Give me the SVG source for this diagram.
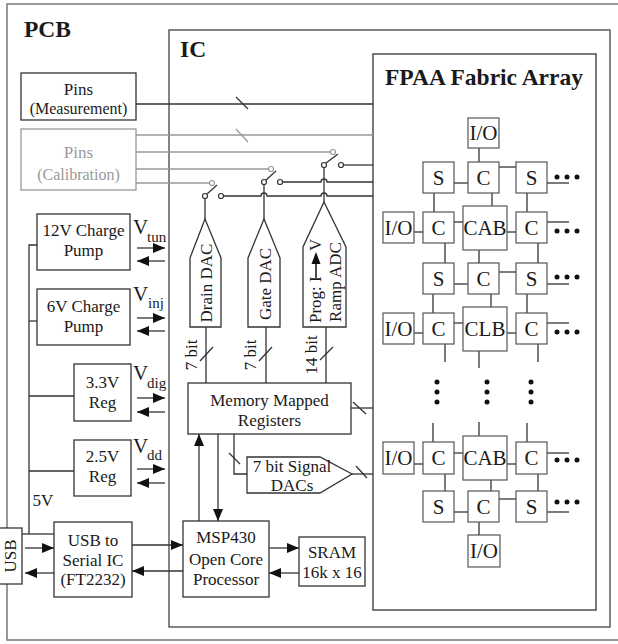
<svg xmlns="http://www.w3.org/2000/svg" width="618" height="644" viewBox="0 0 618 644">
<style>
text{font-family:"Liberation Serif","Times New Roman",serif;fill:#1a1a1a}
.t{font-size:17px;text-anchor:middle}
.m{font-size:16px;text-anchor:middle}
.b{font-weight:bold;font-size:23.5px}
.g{font-size:21px;text-anchor:middle}
.v{font-size:21px}
.s{font-size:15px}
.box{fill:#fff;stroke:#333;stroke-width:1.3}
.gbox{fill:#fff;stroke:#555;stroke-width:1.2}
.ln{fill:none;stroke:#333;stroke-width:1.3}
.gl{fill:none;stroke:#999;stroke-width:1.3}
.gt{fill:#999}
.ar{marker-end:url(#ah)}
.sw{fill:#fff;stroke:#333;stroke-width:1.2}
.swg{fill:#fff;stroke:#999;stroke-width:1.2}
.dot{fill:#111}
</style>
<defs>
<marker id="ah" markerUnits="userSpaceOnUse" markerWidth="12" markerHeight="10" refX="12" refY="5" orient="auto">
<path d="M0,0 L12,5 L0,10 z" fill="#111"/>
</marker>
</defs>

<g id="pcb">
<rect x="7" y="4" width="613" height="636" fill="none" stroke="#777" stroke-width="1.5"/>
<text class="b" x="24" y="37">PCB</text>
</g>
<g id="ic">
<rect x="169" y="30" width="441" height="597" fill="none" stroke="#444" stroke-width="1.3"/>
<text class="b" x="180" y="57">IC</text>
</g>
<g id="fpaa">
<rect x="373" y="54" width="223" height="556" fill="#fff" stroke="#333" stroke-width="1.3"/>
<text class="b" x="385" y="85">FPAA Fabric Array</text>
</g>

<g id="connectors">
<path class="ln" d="M136,104 H373"/>
<path class="ln" d="M236,97 L248,109"/>
<path class="gl" d="M136,135 H373"/>
<path class="gl" d="M236,129 L248,142"/>
<path class="gl" d="M136,152 H330.5"/>
<path class="gl" d="M136,169 H268.5"/>
<path class="gl" d="M136,183 H209.5"/>
<path class="ln" d="M343.5,165 H373"/>
<path class="ln" d="M282.5,182 H321 A3,3 0 0 1 327,182 H373"/>
<path class="ln" d="M223.5,196 H261 A3,3 0 0 1 267,196 H321 A3,3 0 0 1 327,196 H373"/>
<path class="ln" d="M207,194 L217,185"/>
<path class="ln" d="M266,180 L276,171"/>
<path class="ln" d="M326,163 L338,154"/>
<path class="ln" d="M205,198.5 V219"/>
<path class="ln" d="M264,184.5 V219"/>
<path class="ln" d="M324,167.5 V202"/>
<path class="ln" d="M206,327 V383"/>
<path class="ln" d="M200,361 L213,347"/>
<path class="ln" d="M266,327 V383"/>
<path class="ln" d="M259,361 L272,347"/>
<path class="ln" d="M326,327 V383"/>
<path class="ln" d="M320,360 L333,347"/>
<path class="ln" d="M351,408 H373"/>
<path class="ln" d="M353,402 L366,414"/>
<path class="ln" d="M234,434 V474 H247"/>
<path class="ln" d="M229,453 L240,464"/>
<path class="ln" d="M352,474 H373"/>
<path class="ln" d="M356,466 L367,478"/>
<path class="ln ar" d="M199,521 V434"/>
<path class="ln ar" d="M218,434 V521"/>
<path class="ln ar" d="M269,548 H299"/>
<path class="ln ar" d="M299,573 H269"/>
<path class="ln ar" d="M132,545 H183"/>
<path class="ln ar" d="M183,571 H132"/>
<path class="ln ar" d="M25,548 H54"/>
<path class="ln ar" d="M54,573 H25"/>
<path class="ln" d="M22,534 H54"/>
<path class="ln" d="M29,534 V245 H37"/>
<path class="ln" d="M29,321 H37"/>
<path class="ln" d="M29,396 H74"/>
<path class="ln" d="M29,471 H74"/>
<path class="ln ar" d="M137,248 H165"/>
<path class="ln ar" d="M165,261 H137"/>
<path class="ln ar" d="M137,318 H165"/>
<path class="ln ar" d="M165,331 H137"/>
<path class="ln ar" d="M137,398 H165"/>
<path class="ln ar" d="M165,412 H137"/>
<path class="ln ar" d="M137,469 H165"/>
<path class="ln ar" d="M165,483 H137"/>
<g class="ln" stroke="#444">
<path d="M479,148 V162"/>
<path d="M454,183 H468"/><path d="M499,167 H516"/><path d="M547,183 H569"/>
<path d="M434,193 V212"/><path d="M492,193 V206"/><path d="M527,193 V212"/>
<path d="M414,232 H423"/><path d="M454,222 H463"/><path d="M507,232 H516"/><path d="M547,222 H569"/>
<path d="M445,243 V263"/><path d="M479,250 V263"/><path d="M538,243 V263"/>
<path d="M454,284 H468"/><path d="M499,272 H516"/><path d="M547,284 H569"/>
<path d="M433,294 V313"/><path d="M491,294 V307"/><path d="M527,294 V313"/>
<path d="M414,333 H423"/><path d="M454,323 H463"/><path d="M507,333 H516"/><path d="M547,323 H569"/>
<path d="M445,344 V362"/><path d="M479,351 V368"/><path d="M538,344 V362"/>
<path d="M433,423 V442"/><path d="M479,422 V436"/><path d="M527,423 V442"/>
<path d="M414,464 H423"/><path d="M454,453 H463"/><path d="M507,464 H516"/><path d="M547,453 H569"/>
<path d="M445,474 V491"/><path d="M491,480 V491"/><path d="M538,474 V491"/>
<path d="M454,512 H468"/><path d="M499,499 H516"/><path d="M547,512 H569"/>
<path d="M479,522 V535"/>
</g>
</g>

<g id="switches">
<circle class="swg" cx="212" cy="183" r="2.5"/>
<circle class="sw" cx="205" cy="196" r="2.5"/>
<circle class="sw" cx="221" cy="196" r="2.5"/>
<circle class="swg" cx="271" cy="169" r="2.5"/>
<circle class="sw" cx="264" cy="182" r="2.5"/>
<circle class="sw" cx="280" cy="182" r="2.5"/>
<circle class="swg" cx="333" cy="152" r="2.5"/>
<circle class="sw" cx="324" cy="165" r="2.5"/>
<circle class="sw" cx="341" cy="165" r="2.5"/>
</g>

<g id="pins-measurement">
<rect class="box" x="21" y="73" width="115" height="47" stroke="#222"/>
<text class="t" x="78.5" y="95">Pins</text>
<text class="m" x="78.5" y="114">(Measurement)</text>
</g>
<g id="pins-calibration">
<rect x="21" y="129" width="115" height="61" fill="#fff" stroke="#999" stroke-width="1.3"/>
<text class="t gt" x="78.5" y="158">Pins</text>
<text class="m gt" x="78.5" y="180">(Calibration)</text>
</g>

<g id="cp12">
<rect class="box" x="37" y="214" width="93" height="56"/>
<text class="t" x="83.5" y="236">12V Charge</text>
<text class="t" x="83.5" y="256">Pump</text>
<text class="v" x="133" y="234">V</text><text class="s" x="147" y="242">tun</text>
</g>
<g id="cp6">
<rect class="box" x="37" y="289" width="93" height="56"/>
<text class="t" x="83.5" y="312">6V Charge</text>
<text class="t" x="83.5" y="332">Pump</text>
<text class="v" x="133" y="301">V</text><text class="s" x="148" y="308">inj</text>
</g>
<g id="reg33">
<rect class="box" x="74" y="364" width="57" height="57"/>
<text class="t" x="102.5" y="388">3.3V</text>
<text class="t" x="102.5" y="408">Reg</text>
<text class="v" x="133" y="380">V</text><text class="s" x="147" y="388">dig</text>
</g>
<g id="reg25">
<rect class="box" x="74" y="440" width="57" height="56"/>
<text class="t" x="102.5" y="462">2.5V</text>
<text class="t" x="102.5" y="482">Reg</text>
<text class="v" x="133" y="453">V</text><text class="s" x="147" y="460">dd</text>
</g>
<text class="t" x="43" y="506">5V</text>

<g id="usb">
<rect class="box" x="-2" y="528" width="24" height="56"/>
<text class="t" transform="translate(16,556) rotate(-90)">USB</text>
</g>
<g id="usb-serial">
<rect class="box" x="54" y="522" width="78" height="75"/>
<text class="t" x="93" y="546">USB to</text>
<text class="t" x="93" y="566">Serial IC</text>
<text class="t" x="93" y="585">(FT2232)</text>
</g>

<g id="drain-dac">
<polygon class="box" points="205,219 221,258 221,327 190,327 190,258"/>
<text class="t" transform="translate(212,283) rotate(-90)">Drain DAC</text>
<text class="t" transform="translate(197,355) rotate(-90)">7 bit</text>
</g>
<g id="gate-dac">
<polygon class="box" points="264,219 280,258 280,327 248,327 248,258"/>
<text class="t" transform="translate(271,284) rotate(-90)">Gate DAC</text>
<text class="t" transform="translate(256,355) rotate(-90)">7 bit</text>
</g>
<g id="ramp-adc">
<polygon class="box" points="324,202 346,247 346,327 303,327 303,247"/>
<text class="t" transform="translate(321,323) rotate(-90)" style="text-anchor:start">Prog: I</text>
<path d="M316,278 V262" stroke="#111" stroke-width="1.5"/>
<polygon points="316,252 320.5,264 311.5,264" fill="#111"/>
<text class="t" transform="translate(321,251) rotate(-90)" style="text-anchor:start">V</text>
<text class="t" transform="translate(341,282) rotate(-90)">Ramp ADC</text>
<text class="t" transform="translate(317,355) rotate(-90)">14 bit</text>
</g>

<g id="mmr">
<rect class="box" x="188" y="383" width="163" height="51"/>
<text class="t" x="269.5" y="406">Memory Mapped</text>
<text class="t" x="269.5" y="426">Registers</text>
</g>
<g id="signal-dacs">
<polygon class="box" points="247,457 320,457 352,474 320,493 247,493"/>
<text class="t" x="292" y="472">7 bit Signal</text>
<text class="t" x="292" y="491">DACs</text>
</g>
<g id="msp430">
<rect class="box" x="183" y="521" width="86" height="76"/>
<text class="t" x="226" y="543">MSP430</text>
<text class="t" x="226" y="565">Open Core</text>
<text class="t" x="226" y="585">Processor</text>
</g>
<g id="sram">
<rect class="box" x="299" y="537" width="66" height="49"/>
<text class="t" x="332" y="558">SRAM</text>
<text class="t" x="332" y="578">16k x 16</text>
</g>

<g id="fabric">
<g id="io-top"><rect class="gbox" x="468" y="118" width="31" height="30"/><text class="g" x="483.5" y="140">I/O</text></g>
<g id="r1-s1"><rect class="gbox" x="423" y="162" width="31" height="31"/><text class="g" x="438.5" y="185">S</text></g>
<g id="r1-c"><rect class="gbox" x="468" y="162" width="31" height="31"/><text class="g" x="483.5" y="185">C</text></g>
<g id="r1-s2"><rect class="gbox" x="516" y="162" width="31" height="31"/><text class="g" x="531.5" y="185">S</text></g>
<g id="r2-io"><rect class="gbox" x="383" y="212" width="31" height="31"/><text class="g" x="398.5" y="235">I/O</text></g>
<g id="r2-c1"><rect class="gbox" x="423" y="212" width="31" height="31"/><text class="g" x="438.5" y="235">C</text></g>
<g id="r2-cab"><rect class="gbox" x="463" y="206" width="44" height="44"/><text class="g" x="485" y="235">CAB</text></g>
<g id="r2-c2"><rect class="gbox" x="516" y="212" width="31" height="31"/><text class="g" x="531.5" y="235">C</text></g>
<g id="r3-s1"><rect class="gbox" x="423" y="263" width="31" height="31"/><text class="g" x="438.5" y="286">S</text></g>
<g id="r3-c"><rect class="gbox" x="468" y="263" width="31" height="31"/><text class="g" x="483.5" y="286">C</text></g>
<g id="r3-s2"><rect class="gbox" x="516" y="263" width="31" height="31"/><text class="g" x="531.5" y="286">S</text></g>
<g id="r4-io"><rect class="gbox" x="383" y="313" width="31" height="31"/><text class="g" x="398.5" y="336">I/O</text></g>
<g id="r4-c1"><rect class="gbox" x="423" y="313" width="31" height="31"/><text class="g" x="438.5" y="336">C</text></g>
<g id="r4-clb"><rect class="gbox" x="463" y="307" width="44" height="44"/><text class="g" x="485" y="336">CLB</text></g>
<g id="r4-c2"><rect class="gbox" x="516" y="313" width="31" height="31"/><text class="g" x="531.5" y="336">C</text></g>
<g id="r5-io"><rect class="gbox" x="383" y="442" width="31" height="32"/><text class="g" x="398.5" y="465">I/O</text></g>
<g id="r5-c1"><rect class="gbox" x="423" y="442" width="31" height="32"/><text class="g" x="438.5" y="465">C</text></g>
<g id="r5-cab"><rect class="gbox" x="463" y="436" width="44" height="44"/><text class="g" x="485" y="465">CAB</text></g>
<g id="r5-c2"><rect class="gbox" x="516" y="442" width="31" height="32"/><text class="g" x="531.5" y="465">C</text></g>
<g id="r6-s1"><rect class="gbox" x="423" y="491" width="31" height="31"/><text class="g" x="438.5" y="514">S</text></g>
<g id="r6-c"><rect class="gbox" x="468" y="491" width="31" height="31"/><text class="g" x="483.5" y="514">C</text></g>
<g id="r6-s2"><rect class="gbox" x="516" y="491" width="31" height="31"/><text class="g" x="531.5" y="514">S</text></g>
<g id="io-bottom"><rect class="gbox" x="468" y="535" width="32" height="32"/><text class="g" x="484" y="558">I/O</text></g>
<g id="ellipses">
<circle class="dot" cx="557" cy="177" r="2.5"/><circle class="dot" cx="567" cy="177" r="2.5"/><circle class="dot" cx="577" cy="177" r="2.5"/>
<circle class="dot" cx="557" cy="231" r="2.5"/><circle class="dot" cx="567" cy="231" r="2.5"/><circle class="dot" cx="577" cy="231" r="2.5"/>
<circle class="dot" cx="557" cy="277" r="2.5"/><circle class="dot" cx="567" cy="277" r="2.5"/><circle class="dot" cx="577" cy="277" r="2.5"/>
<circle class="dot" cx="557" cy="332" r="2.5"/><circle class="dot" cx="567" cy="332" r="2.5"/><circle class="dot" cx="577" cy="332" r="2.5"/>
<circle class="dot" cx="557" cy="460" r="2.5"/><circle class="dot" cx="567" cy="460" r="2.5"/><circle class="dot" cx="577" cy="460" r="2.5"/>
<circle class="dot" cx="557" cy="502" r="2.5"/><circle class="dot" cx="567" cy="502" r="2.5"/><circle class="dot" cx="577" cy="502" r="2.5"/>
<circle class="dot" cx="437" cy="382" r="2.5"/><circle class="dot" cx="437" cy="392" r="2.5"/><circle class="dot" cx="437" cy="402" r="2.5"/>
<circle class="dot" cx="487" cy="382" r="2.5"/><circle class="dot" cx="487" cy="392" r="2.5"/><circle class="dot" cx="487" cy="402" r="2.5"/>
<circle class="dot" cx="531" cy="382" r="2.5"/><circle class="dot" cx="531" cy="392" r="2.5"/><circle class="dot" cx="531" cy="402" r="2.5"/>
</g>
</g>
</svg>
